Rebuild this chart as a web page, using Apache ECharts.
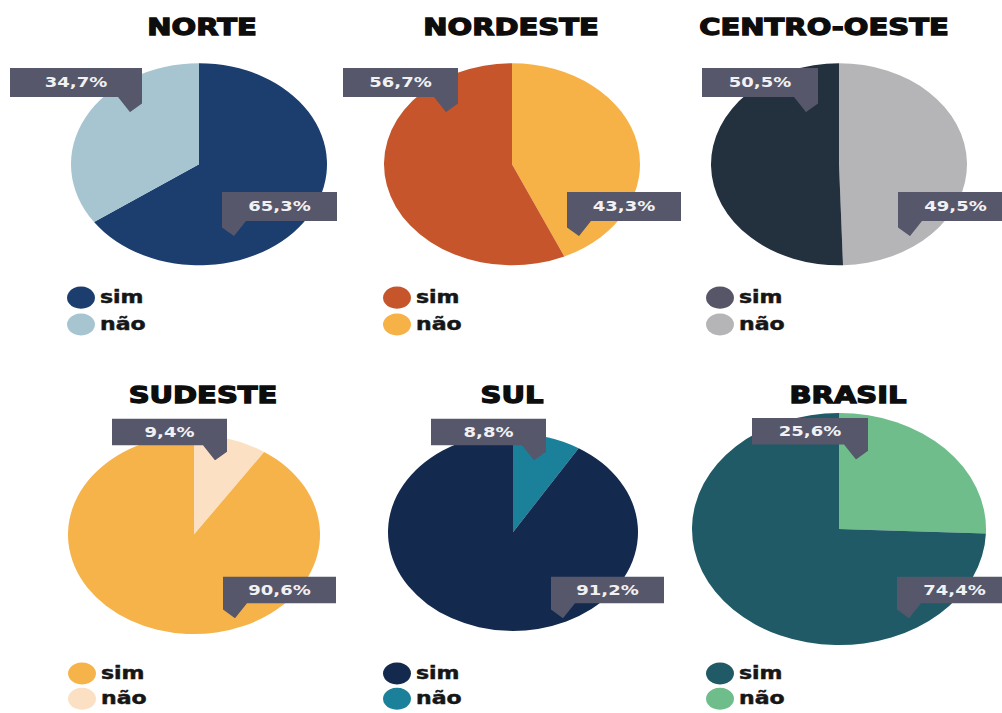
<!DOCTYPE html>
<html>
<head>
<meta charset="utf-8">
<script src="https://cdn.jsdelivr.net/npm/echarts@6/dist/echarts.min.js"></script>
<style>
    html, body { margin: 0; padding: 0; background: #fff; overflow: hidden; }
    #wrap { width: 1002px; height: 713px; overflow: hidden; }
    /* the source picture is squashed vertically, so draw tall and squash it the same way */
    #main { width: 1002px; height: 960px; transform: scaleY(0.7896); transform-origin: 0 0; }
</style>
</head>
<body>
<div id="wrap"><div id="main"></div></div>
<script>
// dados
const regions = ['NORTE', 'NORDESTE', 'CENTRO-OESTE', 'SUDESTE', 'SUL', 'BRASIL'];
const categories = ['sim', 'não'];
const simValues = [65.3, 56.7, 50.5, 90.6, 91.2, 74.4];
const naoValues = [34.7, 43.3, 49.5, 9.4, 8.8, 25.6];

// cores
const simColors = ['#1b3e6e', '#c6552b', '#23303e', '#f6b34a', '#13294e', '#1f5a66'];
const naoColors = ['#a6c5d1', '#f6b246', '#b5b5b8', '#fbe0c3', '#1b8099', '#6ebd8b'];
const legendSimColors = ['#1b3e6e', '#c6552b', '#565668', '#f6b34a', '#13294e', '#1f5a66'];

// layout (px, antes do achatamento vertical)
const pieLayout = [
    {center: [199, 208], r: 128, title: [202, 34], legend: [67, 363], gap: 6, simFirst: true,  topIsSim: false, boxH: 37, top: [-189, -122, 132], low: [23, 35, 115]},
    {center: [512, 208], r: 128, title: [511, 34], legend: [383, 363], gap: 6, simFirst: false, topIsSim: true,  boxH: 37, top: [-169, -122, 115], low: [55, 35, 114]},
    {center: [839, 208], r: 128, title: [824, 34], legend: [706, 363], gap: 6, simFirst: false, topIsSim: true,  boxH: 37, top: [-137, -122, 116], low: [59, 35, 115]},
    {center: [194, 677], r: 126, title: [203, 500], legend: [68, 839], gap: 4, simFirst: false, topIsSim: false, boxH: 34, top: [-82, -147, 115], low: [29, 53, 113]},
    {center: [513, 674], r: 125, title: [512, 500], legend: [383, 839], gap: 4, simFirst: false, topIsSim: false, boxH: 34, top: [-82, -144, 115], low: [38, 56, 113]},
    {center: [839, 670], r: 147, title: [848, 500], legend: [706, 839], gap: 4, simFirst: false, topIsSim: false, boxH: 34, top: [-87, -141, 116], low: [58, 60, 115]}
];

const boxColor = '#56576a';
const ptrH = 19;
const font = 'DejaVu Sans';

// caixinha com a setinha embaixo (setinha na direita ou na esquerda)
function callout(w, h, side) {
    let d;
    if (side === 'right') {
        d = 'M0,0H' + w + 'V' + (h + 8) + 'L' + (w - 12) + ',' + (h + ptrH) + 'L' + (w - 24) + ',' + h + 'H0Z';
    } else {
        d = 'M0,0H' + w + 'V' + h + 'H24L12,' + (h + ptrH) + 'L0,' + (h + 8) + 'Z';
    }
    let svg = '<svg xmlns="http://www.w3.org/2000/svg" width="' + w + '" height="' + (h + ptrH) +
        '" viewBox="0 0 ' + w + ' ' + (h + ptrH) + '"><path d="' + d + '" fill="' + boxColor + '"/></svg>';
    return 'data:image/svg+xml;charset=utf-8,' + encodeURIComponent(svg);
}

function pct(v) {
    return v.toFixed(1).replace('.', ',') + '%';
}

let myChart = echarts.init(document.getElementById('main'), null, {renderer: 'svg'});

let titles = [], legends = [], series = [];

regions.forEach((region, i) => {
    let lay = pieLayout[i];
    let simName = region + '|' + categories[0];
    let naoName = region + '|' + categories[1];

    // qual caixinha vai em cima e qual embaixo
    let boxFor = (isSim) => (isSim === lay.topIsSim ? {b: lay.top, side: 'right'} : {b: lay.low, side: 'left'});

    let makeItem = (name, value, color, isSim) => {
        let bx = boxFor(isSim);
        return {
            name: name,
            value: value,
            itemStyle: {color: color},
            label: {
                width: bx.b[2],
                height: lay.boxH,
                lineHeight: lay.boxH,
                padding: [0, 0, ptrH, 0],
                backgroundColor: {image: callout(bx.b[2], lay.boxH, bx.side)}
            }
        };
    };

    let simItem = makeItem(simName, simValues[i], simColors[i], true);
    let naoItem = makeItem(naoName, naoValues[i], naoColors[i], false);
    let data = lay.simFirst ? [simItem, naoItem] : [naoItem, simItem];

    titles.push({
        text: region,
        left: lay.title[0],
        top: lay.title[1] - 17,
        textAlign: 'center',
        padding: 0,
        textStyle: {
            fontFamily: font, fontWeight: 'bold', fontSize: 29, lineHeight: 34, color: '#0d0d0d',
            textBorderColor: '#0d0d0d', textBorderWidth: 1.6 // deixa mais "black"
        }
    });

    legends.push({
        orient: 'vertical',
        left: lay.legend[0],
        top: lay.legend[1],
        padding: 0,
        itemWidth: 28,
        itemHeight: 28,
        itemGap: lay.gap,
        icon: 'circle',
        selectedMode: false,
        data: [{name: simName, itemStyle: {color: legendSimColors[i]}}, {name: naoName}],
        formatter: (name) => name.split('|')[1],
        textStyle: {
            fontFamily: font, fontWeight: 'bold', fontSize: 22, color: '#161616',
            textBorderColor: '#161616', textBorderWidth: 0.6
        }
    });

    series.push({
        type: 'pie',
        center: lay.center,
        radius: lay.r,
        startAngle: 90,
        clockwise: true,
        animation: false,
        avoidLabelOverlap: false,
        emphasis: {disabled: true},
        data: data,
        label: {
            show: true,
            position: 'inside',
            formatter: (p) => pct(p.value),
            color: '#f1f1f4',
            fontFamily: font,
            fontWeight: 'bold',
            fontSize: 18,
            align: 'center'
        },
        labelLine: {show: false},
        labelLayout: (params) => {
            let item = data[params.dataIndex];
            let isSim = item.name === simName;
            let b = boxFor(isSim).b;
            return {
                x: lay.center[0] + b[0] + b[2] / 2,
                y: lay.center[1] + b[1],
                align: 'center',
                verticalAlign: 'top'
            };
        }
    });
});

myChart.setOption({
    backgroundColor: '#fff',
    animation: false,
    title: titles,
    legend: legends,
    series: series
});
</script>
</body>
</html>
